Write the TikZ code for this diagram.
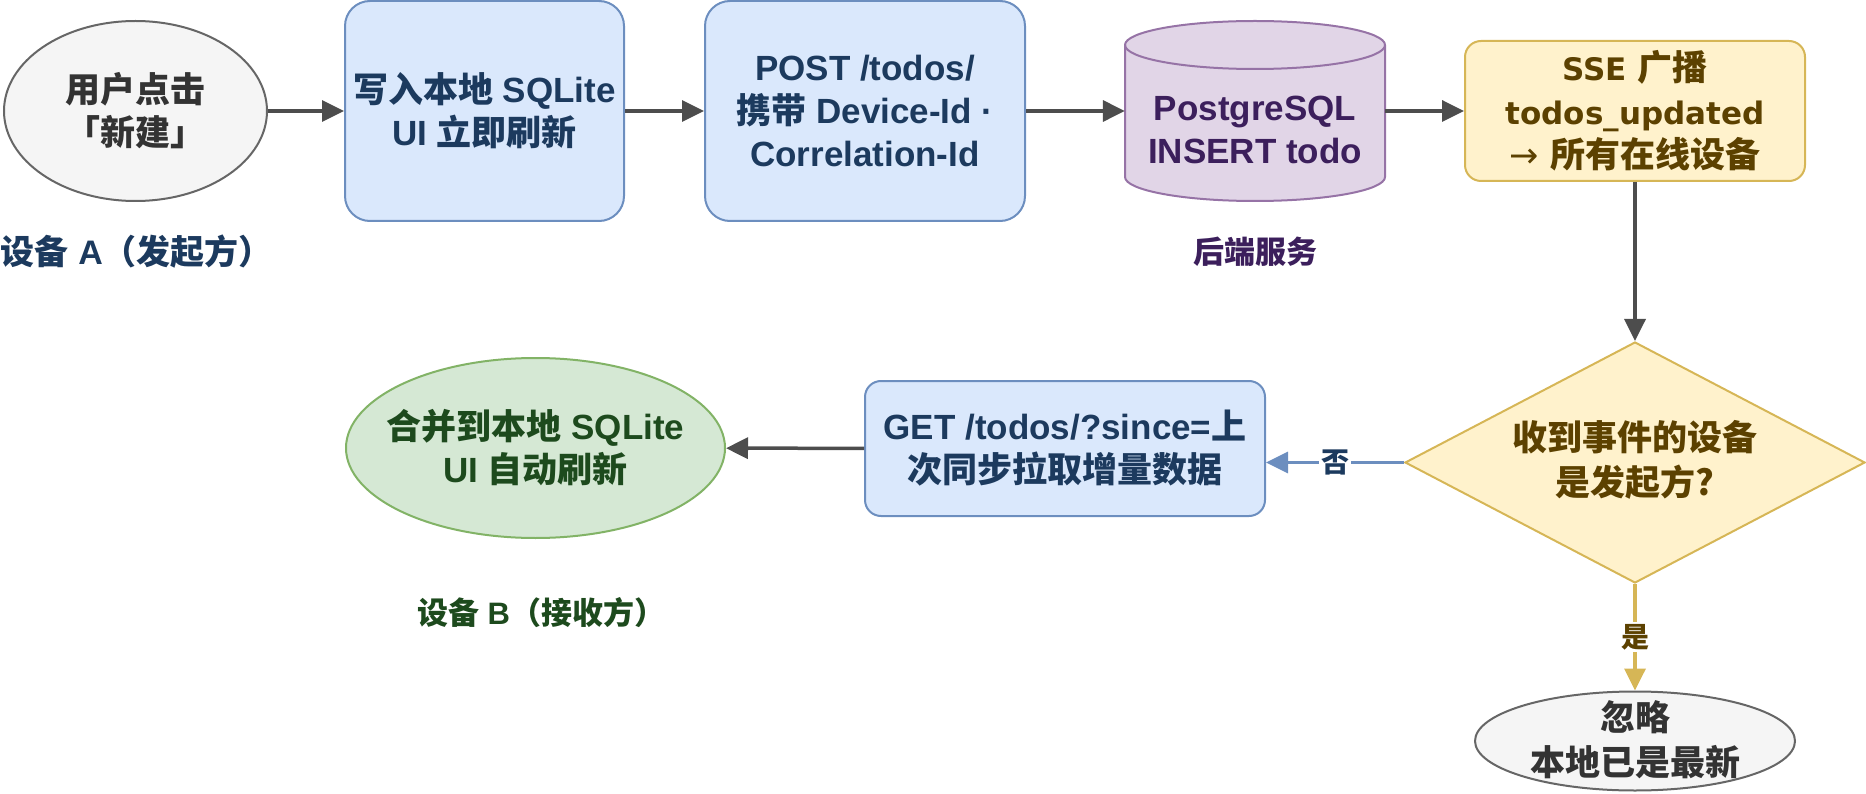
\documentclass[tikz,border=0pt]{standalone}
\usepackage{fontspec}
\setmainfont{Liberation Sans}
\newfontfamily\cjkf{Noto Sans CJK SC}
\newfontfamily\dvf{DejaVu Sans}
\newcommand{\zh}[1]{{\cjkf #1}}
\newcommand{\zhL}[1]{{\cjkf\fontsize{35}{43.5}\selectfont #1}}
\usetikzlibrary{shapes.geometric,arrows.meta}
\definecolor{grayfill}{HTML}{F5F5F5}
\definecolor{graydraw}{HTML}{666666}
\definecolor{graytext}{HTML}{333333}
\definecolor{bluefill}{HTML}{DAE8FC}
\definecolor{bluedraw}{HTML}{6C8EBF}
\definecolor{bluetext}{HTML}{1C3A5E}
\definecolor{purpfill}{HTML}{E1D5E7}
\definecolor{purpdraw}{HTML}{9673A6}
\definecolor{purptext}{HTML}{3C1F5C}
\definecolor{yelfill}{HTML}{FFF2CC}
\definecolor{yeldraw}{HTML}{D6B656}
\definecolor{yeltext}{HTML}{5C4100}
\definecolor{grnfill}{HTML}{D5E8D4}
\definecolor{grndraw}{HTML}{82B366}
\definecolor{grntext}{HTML}{1D4A1D}
\definecolor{arrowgray}{HTML}{4D4D4D}
\begin{document}
\begin{tikzpicture}[x=1pt,y=1pt,
  txt/.style={font=\bfseries\fontsize{35}{43}\selectfont, align=center, inner sep=0pt},
  shp/.style={line width=2pt, inner sep=0pt},
  grayell/.style={shp, ellipse, fill=grayfill, draw=graydraw},
  bluebox/.style={shp, txt, rectangle, rounded corners=25pt, fill=bluefill, draw=bluedraw, text=bluetext},
  yelbox/.style={shp, txt, rectangle, rounded corners=16pt, fill=yelfill, draw=yeldraw, text=yeltext},
  arr/.style={draw=arrowgray, line width=3.5pt, -{Triangle[length=22pt,width=21pt]}},
  lbl/.style={font=\bfseries\fontsize{28}{32}\selectfont, fill=white, inner sep=2pt}
]
\useasboundingbox (0,0) rectangle (1866,-794);

% Device A start
\node[grayell, minimum width=263pt, minimum height=180pt] (start) at (135.5,-111) {};
\node[txt, text=graytext] (starttxt) at (start.center) {\zh{用户点击}\\\zh{「新建」}};
\node[txt, text=bluetext, font=\bfseries\fontsize{34}{40}\selectfont] (labA) at (137,-252) {\zh{设备} A\zh{（发起方）}};

% Local write
\node[bluebox, minimum width=279pt, minimum height=220pt] (write) at (484.5,-111) {\zh{写入本地} SQLite\\UI \zh{立即刷新}};

% POST
\node[bluebox, minimum width=320pt, minimum height=220pt] (post) at (865,-111) {POST /todos/\\\zh{携带} Device-Id ·\\Correlation-Id};

% Cylinder
\node[inner sep=0pt, minimum width=260pt, minimum height=180pt] (db) at (1255,-111) {};
\filldraw[line width=2pt, fill=purpfill, draw=purpdraw]
  (1125,-45) -- (1125,-177) arc[start angle=180, end angle=360, x radius=130, y radius=24]
  -- (1385,-45) arc[start angle=0, end angle=180, x radius=130, y radius=24] -- cycle;
\draw[line width=2pt, draw=purpdraw] (1125,-45) arc[start angle=180, end angle=360, x radius=130, y radius=24];
\node[txt, text=purptext] (dbtxt) at (1255,-130) {PostgreSQL\\INSERT todo};
\node[txt, text=purptext, font=\bfseries\fontsize{31}{36}\selectfont] (labS) at (1255,-252) {\zh{后端服务}};

% SSE
\node[yelbox, minimum width=340pt, minimum height=140pt, font=\dvf\bfseries\fontsize{31}{43.5}\selectfont] (sse) at (1635,-111) {SSE \zhL{广播}\\todos\_updated\\{\mdseries\fontsize{35}{43.5}\selectfont →} \zhL{所有在线设备}};

% Decision
\node[shp, diamond, aspect=1.9, minimum width=460pt, minimum height=241pt, fill=yelfill, draw=yeldraw] (dec) at (1635,-462.5) {};
\node[txt, text=yeltext, font=\bfseries\fontsize{35}{45}\selectfont] (dectxt) at (1635,-460) {\zh{收到事件的设备}\\\zh{是发起方?}};

% Ignore
\node[grayell, minimum width=320pt, minimum height=99pt] (ign) at (1635,-741) {};
\node[txt, text=graytext, font=\bfseries\fontsize{35}{45}\selectfont] (igntxt) at (1635,-740) {\zh{忽略}\\\zh{本地已是最新}};

% GET
\node[shp, txt, rectangle, rounded corners=16pt, fill=bluefill, draw=bluedraw, text=bluetext, minimum width=400pt, minimum height=135pt] (get) at (1065,-448.5) {GET /todos/?since=\zh{上}\\\zh{次同步拉取增量数据}};

% Merge
\node[shp, ellipse, fill=grnfill, draw=grndraw, minimum width=379pt, minimum height=180pt] (merge) at (535.5,-448) {};
\node[txt, text=grntext] (mergetxt) at (merge.center) {\zh{合并到本地} SQLite\\UI \zh{自动刷新}};
\node[txt, text=grntext, font=\bfseries\fontsize{31}{36}\selectfont] (labB) at (541,-613) {\zh{设备} B\zh{（接收方）}};

% Connectors
\draw[arr] (start) -- (write);
\draw[arr] (write) -- (post);
\draw[arr] (post) -- (db);
\draw[arr] (db) -- (sse);
\draw[arr] (sse) -- (dec);
\draw[arr, draw=bluedraw] (dec.west) -- (dec.west -| get.east) node[lbl, text=bluetext, midway] {\zh{否}};
\draw[arr, draw=yeldraw] (dec.south) -- (ign.north) node[lbl, text=yeltext, pos=0.5] {\zh{是}};
\draw[arr] (get) -- (merge);
\end{tikzpicture}
\end{document}
